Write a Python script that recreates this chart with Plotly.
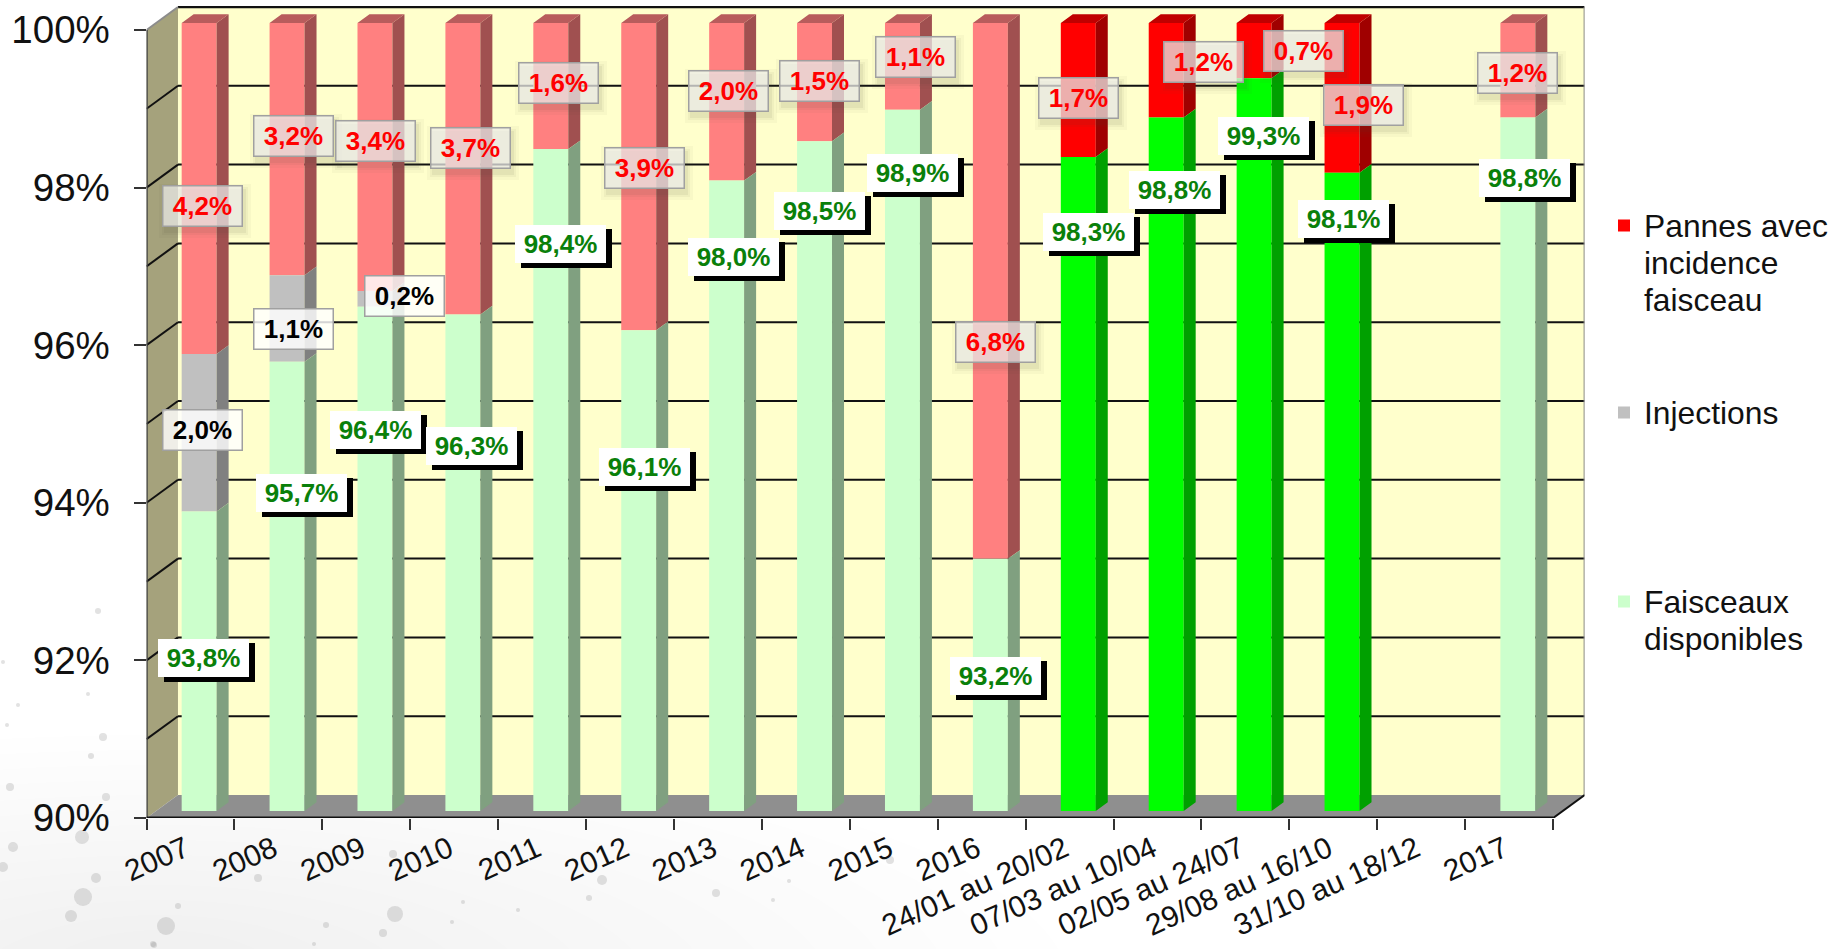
import plotly.graph_objects as go

# Availability of the beams per year and per running period
categories = ["2007", "2008", "2009", "2010", "2011", "2012", "2013", "2014", "2015", "2016",
              "24/01 au 20/02", "07/03 au 10/04", "02/05 au 24/07", "29/08 au 16/10",
              "31/10 au 18/12", "2017"]
available = [93.8, 95.7, 96.4, 96.3, 98.4, 96.1, 98.0, 98.5, 98.9, 93.2,
             98.3, 98.8, 99.3, 98.1, None, 98.8]
injections = [2.0, 1.1, 0.2, None, None, None, None, None, None, None,
              None, None, None, None, None, None]
failures = [4.2, 3.2, 3.4, 3.7, 1.6, 3.9, 2.0, 1.5, 1.1, 6.8,
            1.7, 1.2, 0.7, 1.9, None, 1.2]
is_period = [False] * 10 + [True] * 5 + [False]

y_ticks = [90, 92, 94, 96, 98, 100]
grid_values = [91, 92, 93, 94, 95, 96, 97, 98, 99]

# Page geometry, in pixels
W, H = 1837, 949
PLOT_LEFT, PLOT_RIGHT = 146.5, 1584.6
PLOT_BOTTOM, PLOT_TOP = 818.0, 6.0
PX_PER_CAT, PX_PER_PCT = 88.0, 78.8

X_MIN, X_MAX = -0.5, 15.5
Y_MIN, Y_MAX = 90.0, 100.0
DEPTH_X = 31.5 / PX_PER_CAT
DEPTH_Y = 23.0 / PX_PER_PCT
BAR_W = 35.0 / PX_PER_CAT
BAR_SHIFT_X = 8.7 / PX_PER_CAT
BAR_SHIFT_Y = 7.0 / PX_PER_PCT
SIDE_X = 12.0 / PX_PER_CAT
SIDE_Y = 8.7 / PX_PER_PCT
LABEL_SHIFT = 5.0 / PX_PER_CAT

FONT = "Liberation Sans, Arial, sans-serif"

PALETTE = {
    "fail_pale": ("#FF8080", "#A05050", "#B85C5C"),
    "fail_bright": ("#FF0000", "#A00000", "#C00000"),
    "inj": ("#C0C0C0", "#808080", "#909090"),
    "avail_pale": ("#CCFFCC", "#80A080", "#90B090"),
    "avail_bright": ("#00FF00", "#00A000", "#00C000"),
}

# Stack the three series from the floor of the chart
segments = {k: [] for k in PALETTE}
for i in range(len(categories)):
    if available[i] is None:
        continue
    low = Y_MIN
    suffix = "bright" if is_period[i] else "pale"
    segments["avail_" + suffix].append((i, low, available[i] - low))
    low = available[i]
    if injections[i] is not None:
        segments["inj"].append((i, low, injections[i]))
        low += injections[i]
    segments["fail_" + suffix].append((i, low, failures[i]))


def add_face_trace(fig, xs, ys, colour):
    fig.add_trace(go.Scatter(x=xs, y=ys, mode="lines", fill="toself", fillcolor=colour,
                             line=dict(width=0, color=colour), hoverinfo="skip",
                             showlegend=False))


def legend_text(*lines):
    # Glyphs larger than the legend's own size keep the tight line pitch of the block
    return "<br>".join(f"<span style='font-size:31.8px'>{line}</span>" for line in lines)


fig = go.Figure()

legend_of = {
    "fail_bright": ("legend", legend_text("Pannes avec", "incidence", "faisceau")),
    "inj": ("legend2", legend_text("Injections")),
    "avail_pale": ("legend3", legend_text("Faisceaux", "disponibles")),
}
names = {"fail_pale": "Pannes avec incidence faisceau", "avail_bright": "Faisceaux disponibles"}

for key, rows in segments.items():
    front, _, _ = PALETTE[key]
    xs = [r[0] for r in rows]
    bases = [r[1] + BAR_SHIFT_Y for r in rows]
    heights = [r[2] for r in rows]
    legend_ref, name = legend_of.get(key, ("legend", names.get(key, key)))
    fig.add_trace(go.Bar(x=xs, y=heights, base=bases, width=BAR_W, offset=BAR_SHIFT_X - BAR_W / 2,
                         marker=dict(color=front, line=dict(width=0)), name=name,
                         legend=legend_ref, showlegend=key in legend_of, hoverinfo="skip"))

# Right-hand side and top of every bar segment
for key, rows in segments.items():
    _, side, top = PALETTE[key]
    sx, sy, tx, ty = [], [], [], []
    for i, low, height in rows:
        x_right = i + BAR_SHIFT_X + BAR_W / 2
        x_left = x_right - BAR_W
        y0 = low + BAR_SHIFT_Y
        y1 = y0 + height
        sx += [x_right, x_right + SIDE_X, x_right + SIDE_X, x_right, x_right, None]
        sy += [y0, y0 + SIDE_Y, y1 + SIDE_Y, y1, y0, None]
        if abs(low + height - Y_MAX) < 0.01:
            tx += [x_left, x_left + SIDE_X, x_right + SIDE_X, x_right, x_left, None]
            ty += [y1, y1 + SIDE_Y, y1 + SIDE_Y, y1, y1, None]
    add_face_trace(fig, sx, sy, side)
    if tx:
        add_face_trace(fig, tx, ty, top)

shapes = []


def poly(points, fill, layer="below"):
    path = "M " + " L ".join(f"{x:.4f},{y:.4f}" for x, y in points) + " Z"
    shapes.append(dict(type="path", path=path, xref="x", yref="y", fillcolor=fill,
                       line=dict(width=0), layer=layer))


def seg(x0, y0, x1, y1, colour="#111111", width=2, layer="below"):
    shapes.append(dict(type="line", x0=x0, y0=y0, x1=x1, y1=y1, xref="x", yref="y",
                       line=dict(color=colour, width=width), layer=layer))


def page_ellipse(cx, cy, rx, ry, fill):
    shapes.append(dict(type="circle", xref="paper", yref="paper", x0=(cx - rx) / W, x1=(cx + rx) / W,
                       y0=1 - (cy - ry) / H, y1=1 - (cy + ry) / H, fillcolor=fill,
                       line=dict(width=0), layer="below"))


# Pale speckled haze in the lower-left corner of the page
for step in range(14):
    page_ellipse(160, 990, 130 + 60 * step, 60 + 15 * step, "rgba(90,90,90,0.0075)")
speckles = [(10, 787, 4), (106, 797, 4), (13, 847, 5), (3, 867, 5), (82, 837, 7), (96, 878, 5),
            (83, 897, 9), (71, 916, 6), (153, 944, 3), (103, 737, 4), (91, 756, 3), (88, 694, 2),
            (98, 611, 3), (18, 705, 2), (7, 725, 2), (3, 662, 2), (166, 926, 9), (395, 914, 8),
            (383, 933, 4), (326, 925, 3), (178, 906, 3), (716, 893, 4), (589, 898, 3), (602, 880, 5),
            (393, 854, 4), (518, 910, 2), (258, 878, 4), (154, 945, 3), (314, 944, 2), (773, 900, 2),
            (452, 922, 2), (463, 902, 2), (789, 881, 2), (890, 860, 4)]
for sx_, sy_, r_ in speckles:
    page_ellipse(sx_, sy_, r_, r_, "rgba(140,140,140,0.25)")

bx0, bx1 = X_MIN + DEPTH_X, X_MAX + DEPTH_X
by0, by1 = Y_MIN + DEPTH_Y, Y_MAX + DEPTH_Y
poly([(bx0, by0), (bx1, by0), (bx1, by1), (bx0, by1)], "#FFFFCC")
poly([(X_MIN, Y_MIN), (bx0, by0), (bx0, by1), (X_MIN, Y_MAX)], "#A5A27C")
poly([(X_MIN, Y_MIN), (X_MAX, Y_MIN), (bx1, by0), (bx0, by0)], "#8F8F8F")
for v in grid_values:
    seg(X_MIN, v, bx0, v + DEPTH_Y)
    seg(bx0, v + DEPTH_Y, bx1, v + DEPTH_Y)
seg(bx0, by1, bx1, by1, width=2.5)
seg(bx1, by0, bx1, by1, colour="#8C8C8C")
seg(X_MIN, Y_MAX, bx0, by1, colour="#8C8C8C")
seg(X_MIN, Y_MIN, X_MIN, Y_MAX, colour="#444444", width=2.5, layer="above")
seg(X_MIN, Y_MIN, X_MAX, Y_MIN, colour="#111111", width=3, layer="above")
seg(X_MAX, Y_MIN, bx1, by0, colour="#111111", width=2, layer="above")


# Value labels, as box centres on the page
avail_label_xy = [(203, 658), (301, 493), (375, 430), (471, 446), (560, 244), (644, 467), (733, 257),
                  (819, 211), (912, 173), (995, 676), (1088, 232), (1174, 190), (1263, 136),
                  (1343, 219), (1524, 178)]
fail_label_xy = [(202, 206), (293, 136), (375, 141), (470, 148), (558, 83), (644, 168), (728, 91),
                 (819, 81), (915, 57), (995, 342), (1078, 98), (1203, 62), (1303, 51),
                 (1363, 105), (1517, 73)]
inj_label_xy = [(202, 430), (293, 329), (404, 296)]


def fmt(v):
    return f"{v:.1f}".replace(".", ",") + "%"


annotations = []


def value_label(text, centre, colour, fill, border, bw, box_w, box_h):
    annotations.append(dict(text=f"<b>{text}</b>", xref="paper", yref="paper",
                            x=centre[0] / W, y=1 - centre[1] / H, xanchor="center", yanchor="middle",
                            showarrow=False, width=box_w, height=box_h, borderpad=0,
                            align="center", valign="middle", bgcolor=fill, bordercolor=border,
                            borderwidth=bw, font=dict(family=FONT, size=26, color=colour)))


def page_rect(x0, y0, x1, y1, fill):
    shapes.append(dict(type="rect", xref="paper", yref="paper", x0=x0 / W, x1=x1 / W,
                       y0=1 - y0 / H, y1=1 - y1 / H, fillcolor=fill, line=dict(width=0),
                       layer="above"))


avail_values = [v for v in available if v is not None]
fail_values = [v for v in failures if v is not None]
inj_values = [v for v in injections if v is not None]

for v, c in zip(avail_values, avail_label_xy):
    page_rect(c[0] - 39, c[1] - 15, c[0] + 52, c[1] + 24, "#000000")
    value_label(fmt(v), c, "#0A800A", "#FFFFFF", "#FFFFFF", 0, 91, 38)
for v, c in zip(fail_values, fail_label_xy):
    for grow, alpha in ((7, 0.04), (4, 0.05), (2, 0.07)):
        page_rect(c[0] - 39 - grow + 3, c[1] - 20 - grow + 5, c[0] + 39 + grow + 3, c[1] + 20 + grow + 5,
                  f"rgba(70,70,50,{alpha})")
    value_label(fmt(v), c, "#FF0000", "rgba(240,240,238,0.72)", "#A0A0A0", 1.5, 78, 39)
for v, c in zip(inj_values, inj_label_xy):
    value_label(fmt(v), c, "#000000", "rgba(255,255,255,0.82)", "#A0A0A0", 1.5, 78, 39)

legend_common = dict(xanchor="left", yanchor="top", bgcolor="rgba(0,0,0,0)", borderwidth=0,
                     valign="top", font=dict(family=FONT, size=28.5, color="#111111"))

fig.update_layout(
    width=W, height=H, margin=dict(l=0, r=0, t=0, b=0, autoexpand=False), autosize=False,
    paper_bgcolor="#FFFFFF", plot_bgcolor="rgba(0,0,0,0)", barmode="overlay",
    shapes=shapes, annotations=annotations,
    legend=dict(x=1604 / W, y=1 - 200.5 / H, **legend_common),
    legend2=dict(x=1604 / W, y=1 - 387.5 / H, **legend_common),
    legend3=dict(x=1604 / W, y=1 - 576.5 / H, **legend_common),
    xaxis=dict(domain=[PLOT_LEFT / W, PLOT_RIGHT / W], range=[X_MIN, X_MAX + DEPTH_X], automargin=False,
               tickmode="array", tickvals=[i - LABEL_SHIFT for i in range(len(categories))],
               ticktext=categories, ticks="", tickangle=-24, ticklabelstandoff=7,
               showgrid=False, zeroline=False, showline=False,
               tickfont=dict(family=FONT, size=30, color="#111111"),
               minor=dict(tick0=-0.5, dtick=1, ticks="outside", ticklen=11, tickwidth=2,
                          tickcolor="#333333", showgrid=False)),
    yaxis=dict(domain=[1 - PLOT_BOTTOM / H, 1 - PLOT_TOP / H], automargin=False,
               range=[Y_MIN, Y_MIN + (PLOT_BOTTOM - PLOT_TOP) / PX_PER_PCT],
               tickmode="array", tickvals=y_ticks, ticktext=[f"{t}%" for t in y_ticks],
               ticks="outside", ticklen=12, tickwidth=2, tickcolor="#333333", ticklabelstandoff=16,
               showgrid=False, zeroline=False, showline=False,
               tickfont=dict(family=FONT, size=38.5, color="#111111")),
)

fig.write_html("out.html")
